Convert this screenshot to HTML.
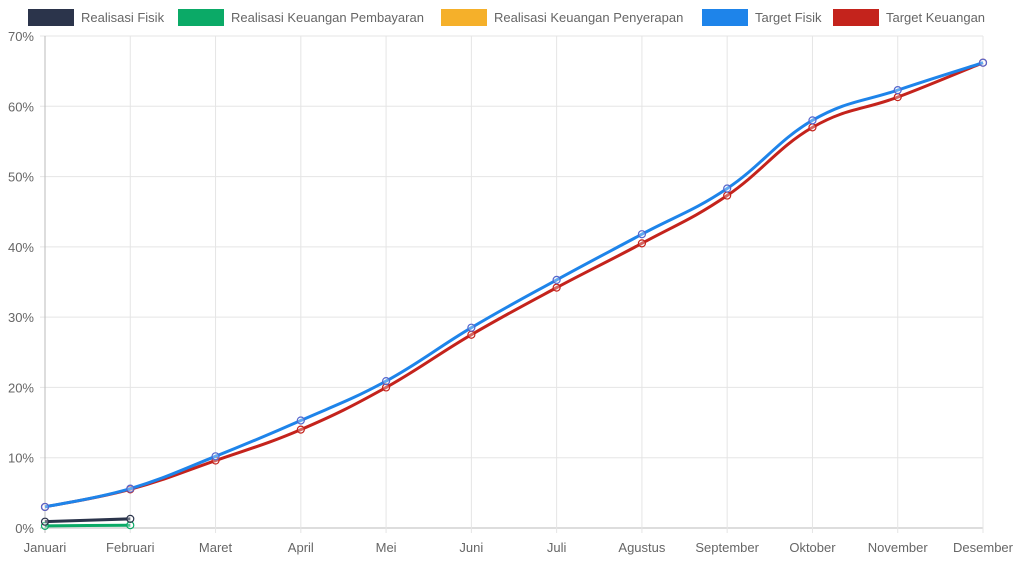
<!DOCTYPE html>
<html><head><meta charset="utf-8"><style>
body{margin:0;background:#fff;width:1018px;height:562px;overflow:hidden}
svg text{font-family:"Liberation Sans",Arial,sans-serif;font-size:13px;fill:#666}
</style></head><body>
<svg id="c" width="1018" height="562" xmlns="http://www.w3.org/2000/svg">
<g id="grid"></g>
<g font-size="13">
<rect x="28" y="9" width="46" height="17" fill="#2b344b"/><text x="81" y="22">Realisasi Fisik</text>
<rect x="178" y="9" width="46" height="17" fill="#0baa67"/><text x="231" y="22">Realisasi Keuangan Pembayaran</text>
<rect x="441" y="9" width="46" height="17" fill="#f5b02a"/><text x="494" y="22">Realisasi Keuangan Penyerapan</text>
<rect x="702" y="9" width="46" height="17" fill="#1e84ea"/><text x="755" y="22">Target Fisik</text>
<rect x="833" y="9" width="46" height="17" fill="#c4231c"/><text x="886" y="22">Target Keuangan</text>
</g>
<g id="series"></g>
</svg>
<script>
const X0=45,X1=983,Y0=528,Y70=36;
const months=["Januari","Februari","Maret","April","Mei","Juni","Juli","Agustus","September","Oktober","November","Desember"];
const xs=i=>X0+(X1-X0)*i/11, ys=v=>Y0-(Y0-Y70)*v/70;
let g='';
for(let i=0;i<=7;i++){const y=ys(i*10);g+=`<line x1="40" x2="983" y1="${y}" y2="${y}" stroke="${i==0?'#bbb':'#e5e5e5'}"/>`;
g+=`<text x="34" y="${y+5}" text-anchor="end">${i*10}%</text>`;}
months.forEach((m,i)=>{const x=xs(i);g+=`<line x1="${x}" x2="${x}" y1="36" y2="533" stroke="${i==0?'#bbb':'#e5e5e5'}"/>`;
g+=`<text x="${x}" y="552" text-anchor="middle">${m}</text>`;});
document.getElementById('grid').innerHTML=g;
function path(pts){let d=`M${pts[0][0]},${pts[0][1]}`;const t=0.4;
for(let i=0;i<pts.length-1;i++){const p0=pts[i-1]||pts[i],p1=pts[i],p2=pts[i+1],p3=pts[i+2]||p2;
const c1=[p1[0]+(p2[0]-p0[0])*t/2,p1[1]+(p2[1]-p0[1])*t/2],c2=[p2[0]-(p3[0]-p1[0])*t/2,p2[1]-(p3[1]-p1[1])*t/2];
d+=` C${c1[0]},${c1[1]} ${c2[0]},${c2[1]} ${p2[0]},${p2[1]}`;}return d;}
const S=[
{c:"#c4231c",pc:"#c4231c",v:[3.0,5.5,9.6,14,20,27.5,34.2,40.5,47.3,57,61.3,66.2]},
{c:"#1e84ea",pc:"#5566cc",v:[3.0,5.6,10.2,15.3,20.9,28.5,35.3,41.8,48.3,58,62.3,66.2]},
{c:"#0baa67",pc:"#0baa67",v:[0.3,0.4]},
{c:"#2b344b",pc:"#2b344b",v:[0.9,1.3]}];
let s='';
S.forEach(o=>{const pts=o.v.map((v,i)=>[xs(i),ys(v)]);
s+=`<path d="${path(pts)}" fill="none" stroke="${o.c}" stroke-width="3"/>`;
pts.forEach(p=>s+=`<circle cx="${p[0]}" cy="${p[1]}" r="3.5" fill="rgba(255,255,255,0.3)" stroke="${o.pc}" stroke-width="1.2"/>`);});
document.getElementById('series').innerHTML=s;
</script>
</body></html>
